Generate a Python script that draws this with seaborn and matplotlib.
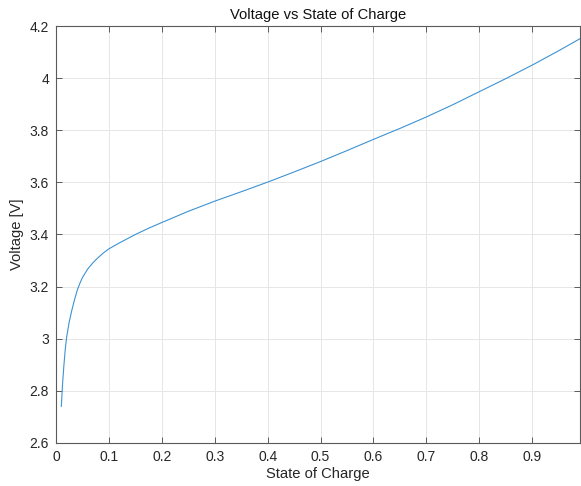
import matplotlib
matplotlib.use("Agg")
import matplotlib.pyplot as plt
import seaborn as sns
import pandas as pd

soc = [0.01, 0.0125, 0.015, 0.0175, 0.02, 0.025, 0.03, 0.035, 0.04, 0.045, 0.05,
       0.06, 0.07, 0.08, 0.09, 0.1, 0.12, 0.15, 0.175, 0.2, 0.25, 0.3, 0.35,
       0.4, 0.45, 0.5, 0.55, 0.6, 0.65, 0.7, 0.75, 0.8, 0.85, 0.9, 0.95, 0.99]
voltage = [2.74, 2.83, 2.90, 2.96, 3.005, 3.065, 3.11, 3.15, 3.185, 3.212, 3.235,
           3.268, 3.292, 3.312, 3.33, 3.345, 3.368, 3.40, 3.424, 3.446, 3.489, 3.528,
           3.564, 3.601, 3.640, 3.68, 3.722, 3.765, 3.807, 3.851, 3.898, 3.948,
           3.998, 4.05, 4.105, 4.151]
xticks = [0, 0.1, 0.2, 0.3, 0.4, 0.5, 0.6, 0.7, 0.8, 0.9]
xticklabels = ["0", "0.1", "0.2", "0.3", "0.4", "0.5", "0.6", "0.7", "0.8", "0.9"]
yticks = [2.6, 2.8, 3.0, 3.2, 3.4, 3.6, 3.8, 4.0, 4.2]
yticklabels = ["2.6", "2.8", "3", "3.2", "3.4", "3.6", "3.8", "4", "4.2"]

df = pd.DataFrame({"soc": soc, "voltage": voltage})

sns.set_style("white")
plt.rcParams["font.family"] = ["Liberation Sans", "DejaVu Sans"]

fig = plt.figure(figsize=(5.81, 4.86), dpi=100)
ax = fig.add_axes([0.0964, 0.0885, 0.9016, 0.858])

sns.lineplot(data=df, x="soc", y="voltage", ax=ax, color="#3d93d3", linewidth=0.8)

ax.set_xlim(0, 0.99)
ax.set_ylim(2.6, 4.2)
ax.set_xticks(xticks)
ax.set_xticklabels(xticklabels)
ax.set_yticks(yticks)
ax.set_yticklabels(yticklabels)
ax.grid(True, color="#e6e6e6", linewidth=0.7)
ax.set_axisbelow(True)
for s in ax.spines.values():
    s.set_color("#5a5a5a")
    s.set_linewidth(0.8)
ax.tick_params(direction="in", length=4, width=0.7, color="#5a5a5a",
               labelsize=10, labelcolor="#262626", top=True, right=True,
               bottom=True, left=True, pad=5)
ax.set_xlabel("State of Charge", fontsize=10.6, color="#262626", labelpad=2)
ax.set_ylabel("Voltage [V]", fontsize=10.6, color="#262626", labelpad=4)
ax.set_title("Voltage vs State of Charge", fontsize=10.6, color="#111111", pad=5)

fig.savefig("out.png", dpi=100)
